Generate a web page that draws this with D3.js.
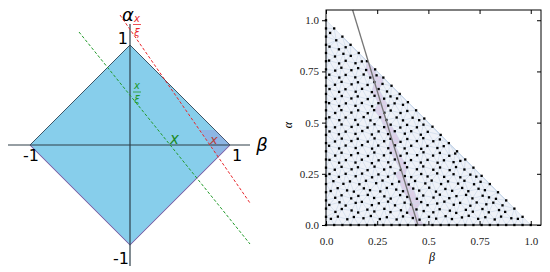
<!DOCTYPE html>
<html>
<head>
<meta charset="utf-8">
<script src="https://cdn.jsdelivr.net/npm/d3@7"></script>
<style>
  body { margin: 0; background: #fff; }
  svg { display: block; }
</style>
</head>
<body>
<svg id="chart" width="550" height="272"></svg>
<script>
// left panel: the diamond |beta| + |alpha| <= 1 with two cutting lines
var diamond = [[0, 1], [1, 0], [0, -1], [-1, 0]];
var lowerEdges = [[-1, 0], [0, -1], [1, 0]];
var redLine = [[-0.10, 1.30], [1.20, -0.58]];
var greenLine = [[-0.51, 1.13], [1.20, -0.99]];
var redCross = 0.80, greenCross = 0.40;       // where the lines meet beta axis
var redCut = 1.155, greenCut = 0.50;          // where they meet alpha axis
var beyondRed = [[0.70, 0.15], [0.85, 0.15], [1, 0], [0.88, -0.12]];  // tinted corner past the red line

// right panel: sample points in the simplex, cut by a line
var ticks = [0, 0.25, 0.5, 0.75, 1.0];
var tickLabels = ["0.0", "0.25", "0.5", "0.75", "1.0"];
var edgeSteps = [0, 0.04, 0.08, 0.12, 0.16, 0.20, 0.24, 0.28, 0.32, 0.36, 0.40, 0.44, 0.48,
                 0.52, 0.56, 0.60, 0.64, 0.68, 0.72, 0.76, 0.80, 0.84, 0.88, 0.92, 0.96, 1.0];
var cutLine = [[0.13, 1.05], [0.449, 0]];
var innerPoints = [
  [.024,.030],[.058,.041],[.104,.028],[.136,.039],[.183,.033],[.219,.044],[.263,.029],[.297,.038],[.345,.027],[.376,.042],[.424,.034],[.457,.026],[.503,.040],[.538,.031],[.584,.043],[.615,.029],[.664,.037],[.697,.045],[.743,.030],[.778,.038],[.824,.027],[.855,.041],[.905,.033],[.937,.030],
  [.046,.064],[.077,.078],[.125,.071],[.157,.061],[.202,.075],[.236,.066],[.285,.079],[.315,.063],[.366,.072],[.396,.060],[.442,.076],[.477,.068],[.524,.062],[.555,.077],[.605,.070],[.636,.059],[.683,.074],[.717,.065],[.764,.078],[.795,.062],[.845,.073],[.875,.064],
  [.016,.098],[.066,.111],[.096,.095],[.145,.108],[.175,.113],[.224,.097],[.258,.106],[.303,.114],[.337,.096],[.384,.109],[.415,.100],[.465,.112],[.496,.097],[.543,.105],[.578,.114],[.624,.099],[.655,.108],[.705,.094],[.736,.110],[.783,.101],[.817,.109],[.862,.096],
  [.045,.133],[.076,.145],[.123,.130],[.158,.142],[.204,.147],[.235,.132],[.285,.140],[.316,.129],[.362,.146],[.397,.137],[.444,.128],[.475,.144],[.525,.134],[.556,.148],[.602,.131],[.637,.141],[.684,.147],[.715,.130],[.765,.143],[.796,.135],[.830,.128],
  [.023,.166],[.057,.180],[.103,.169],[.136,.163],[.185,.179],[.215,.170],[.265,.164],[.297,.181],[.343,.173],[.376,.165],[.426,.178],[.455,.168],[.504,.182],[.537,.163],[.583,.176],[.616,.167],[.665,.181],[.695,.165],[.745,.177],[.776,.170],
  [.036,.214],[.085,.201],[.117,.213],[.163,.199],[.195,.216],[.245,.204],[.276,.217],[.323,.200],[.357,.212],[.404,.198],[.435,.215],[.485,.203],[.516,.217],[.562,.200],[.596,.213],[.645,.202],[.676,.216],[.723,.199],[.755,.211],
  [.017,.249],[.063,.235],[.096,.250],[.145,.238],[.176,.251],[.225,.233],[.256,.247],[.303,.236],[.336,.252],[.385,.239],[.416,.234],[.465,.249],[.496,.237],[.543,.252],[.577,.235],[.623,.248],[.656,.233],[.705,.246],[.734,.236],
  [.043,.270],[.076,.284],[.125,.272],[.156,.282],[.203,.268],[.237,.285],[.284,.271],[.315,.283],[.365,.269],[.396,.282],[.444,.272],[.475,.286],[.524,.270],[.557,.281],[.604,.268],[.635,.283],[.676,.271],
  [.017,.318],[.064,.304],[.097,.317],[.144,.305],[.175,.319],[.224,.302],[.257,.316],[.304,.306],[.336,.320],[.385,.303],[.415,.317],[.463,.305],[.496,.318],[.545,.304],[.576,.316],[.623,.307],[.656,.313],
  [.045,.339],[.076,.353],[.123,.341],[.156,.351],[.205,.337],[.236,.354],[.283,.340],[.316,.352],[.364,.338],[.395,.350],[.445,.341],[.476,.355],[.523,.339],[.556,.352],[.602,.338],[.631,.349],
  [.015,.387],[.064,.374],[.096,.388],[.145,.376],[.176,.390],[.225,.373],[.255,.388],[.304,.375],[.337,.389],[.384,.374],[.416,.387],[.465,.372],[.495,.386],[.544,.376],[.575,.385],
  [.044,.408],[.077,.422],[.124,.410],[.155,.421],[.204,.407],[.237,.423],[.284,.409],[.315,.421],[.364,.406],[.397,.420],[.444,.410],[.475,.424],[.524,.409],[.556,.418],
  [.017,.457],[.063,.443],[.096,.456],[.144,.445],[.177,.459],[.224,.442],[.257,.457],[.303,.444],[.336,.458],[.385,.446],[.416,.458],[.463,.441],[.497,.455],
  [.044,.477],[.076,.491],[.125,.479],[.156,.490],[.203,.476],[.237,.492],[.284,.478],[.316,.490],[.363,.476],[.396,.489],[.444,.477],[.476,.490],
  [.016,.526],[.065,.512],[.096,.525],[.143,.513],[.184,.527],[.217,.511],[.264,.526],[.295,.513],[.345,.525],[.376,.511],[.423,.524],[.455,.512],
  [.045,.547],[.075,.561],[.124,.549],[.157,.560],[.204,.546],[.235,.561],[.285,.548],[.316,.559],[.364,.547],[.397,.557],
  [.015,.595],[.064,.581],[.097,.594],[.144,.582],[.175,.596],[.225,.580],[.256,.595],[.304,.583],[.335,.594],[.376,.587],
  [.044,.616],[.077,.630],[.124,.618],[.155,.628],[.204,.615],[.237,.631],[.284,.617],[.315,.628],[.347,.618],
  [.017,.664],[.064,.650],[.095,.663],[.145,.651],[.176,.665],[.224,.649],[.257,.664],[.298,.652],
  [.044,.685],[.076,.699],[.125,.687],[.156,.697],[.203,.684],[.236,.698],[.276,.689],
  [.016,.734],[.065,.720],[.096,.733],[.143,.721],[.184,.735],[.216,.720],[.247,.731],
  [.045,.754],[.075,.768],[.124,.756],[.157,.766],[.196,.757],
  [.015,.803],[.064,.789],[.096,.802],[.144,.790],[.175,.799],
  [.044,.823],[.085,.836],[.121,.826],
  [.017,.871],[.063,.858],[.096,.868],
  [.050,.902],
  [.020,.938]
];

var svg = d3.select("#chart");

// ---------- left panel ----------
var xL = d3.scaleLinear().domain([-1, 1]).range([30, 230]);
var yL = d3.scaleLinear().domain([-1, 1]).range([245, 45]);
var lineL = d3.line().x(function(d) { return xL(d[0]); }).y(function(d) { return yL(d[1]); });

svg.append("path")
    .datum(diamond)
    .attr("d", lineL.curve(d3.curveLinearClosed))
    .attr("fill", "#87ceeb")
    .attr("stroke", "#3d5566")
    .attr("stroke-width", 1);

svg.append("path")
    .datum(beyondRed)
    .attr("d", lineL.curve(d3.curveLinearClosed))
    .attr("fill", "#a070d0")
    .attr("fill-opacity", 0.25);

svg.append("path")
    .datum(lowerEdges)
    .attr("d", lineL.curve(d3.curveLinear))
    .attr("fill", "none")
    .attr("stroke", "#9a7cc8")
    .attr("stroke-opacity", 0.7)
    .attr("stroke-width", 1.2);

// axes through the origin
svg.append("line")
    .attr("x1", xL(-1.22)).attr("x2", xL(1.2))
    .attr("y1", yL(0)).attr("y2", yL(0))
    .attr("stroke", "#2e3f48").attr("stroke-width", 1.2);
svg.append("line")
    .attr("x1", xL(0)).attr("x2", xL(0))
    .attr("y1", yL(1.21)).attr("y2", yL(-1.21))
    .attr("stroke", "#2e3f48").attr("stroke-width", 1.2);

[[redLine, "#e8262b"], [greenLine, "#229a2a"]].forEach(function(l) {
    svg.append("line")
        .attr("x1", xL(l[0][0][0])).attr("y1", yL(l[0][0][1]))
        .attr("x2", xL(l[0][1][0])).attr("y2", yL(l[0][1][1]))
        .attr("stroke", l[1])
        .attr("stroke-width", 1)
        .attr("stroke-dasharray", "3,2");
});

var sans = "DejaVu Sans, sans-serif";
function lbl(x, y, t, size, anchor, italic, color) {
    return svg.append("text")
        .attr("x", x).attr("y", y)
        .attr("text-anchor", anchor || "start")
        .style("font-family", sans)
        .style("font-size", size + "px")
        .style("font-style", italic ? "italic" : "normal")
        .attr("fill", color || "#000")
        .text(t);
}
lbl(xL(0) - 2, 21, "α", 18, "middle", true);
lbl(xL(0) + 132, yL(0) + 6, "β", 18, "middle", true);
lbl(xL(0) - 2, yL(1) - 1, "1", 16, "end");
lbl(xL(-1) + 1, yL(0) + 16, "-1", 16, "middle");
lbl(xL(1) + 7, yL(0) + 16, "1", 16, "middle");
lbl(xL(0) - 1, yL(-1) + 19, "-1", 16, "end");

// markers where the lines cross the beta axis
lbl(xL(redCross), yL(0) - 1, "x", 13, "start", true, "#b5403a");
lbl(xL(greenCross), yL(0) - 1, "x", 15, "start", true, "#1d8a26");

// x / xi labels where the lines cross the alpha axis
function frac(yc, color) {
    var cx = xL(0) + 7;
    lbl(cx, yc - 4, "x", 10, "middle", true, color);
    svg.append("line").attr("x1", cx - 4).attr("x2", cx + 4)
        .attr("y1", yc - 1).attr("y2", yc - 1)
        .attr("stroke", color).attr("stroke-width", 0.8);
    lbl(cx, yc + 10, "ξ", 10, "middle", true, color);
}
frac(yL(redCut) - 4, "#e8262b");
frac(yL(greenCut) - 2, "#229a2a");

// ---------- right panel ----------
var xR = d3.scaleLinear().domain([0, 1.05]).range([326, 541]);
var yR = d3.scaleLinear().domain([0, 1.05]).range([225, 10]);

var pts = [];
edgeSteps.forEach(function(s) { pts.push([s, 0]); });
edgeSteps.slice(1).forEach(function(s) { pts.push([0, s]); });
edgeSteps.slice(1, -1).forEach(function(s) { pts.push([s, 1 - s]); });
innerPoints.forEach(function(p) { pts.push(p); });

var pix = pts.map(function(p) { return [xR(p[0]), yR(p[1])]; });
var delaunay = d3.Delaunay.from(pix);

svg.append("path")
    .datum([[0, 0], [1, 0], [0, 1]])
    .attr("d", d3.line().x(function(d) { return xR(d[0]); }).y(function(d) { return yR(d[1]); }).curve(d3.curveLinearClosed))
    .attr("fill", "#eff2f8");

// triangles cut by the line get a lilac tint
var la = [xR(cutLine[0][0]), yR(cutLine[0][1])], lb = [xR(cutLine[1][0]), yR(cutLine[1][1])];
function side(p) { return (lb[0] - la[0]) * (p[1] - la[1]) - (lb[1] - la[1]) * (p[0] - la[0]); }
var tri = delaunay.triangles;
var cut = [];
for (var i = 0; i < tri.length; i += 3) {
    var s = [side(pix[tri[i]]), side(pix[tri[i + 1]]), side(pix[tri[i + 2]])];
    if (d3.min(s) < 0 && d3.max(s) > 0) cut.push([pix[tri[i]], pix[tri[i + 1]], pix[tri[i + 2]]]);
}
svg.append("g").selectAll("path")
    .data(cut)
    .enter().append("path")
    .attr("d", function(t) { return "M" + t.join("L") + "Z"; })
    .attr("fill", "#ddd0e8");

svg.append("path")
    .attr("d", delaunay.render())
    .attr("fill", "none")
    .attr("stroke", "#c8d7ea")
    .attr("stroke-width", 0.6);

svg.append("g").selectAll("rect")
    .data(pix)
    .enter().append("rect")
    .attr("x", function(d) { return d[0] - 1.15; })
    .attr("y", function(d) { return d[1] - 1.15; })
    .attr("width", 2.3).attr("height", 2.3)
    .attr("fill", "#000");

svg.append("line")
    .attr("x1", la[0]).attr("y1", la[1])
    .attr("x2", lb[0]).attr("y2", lb[1])
    .attr("stroke", "#777").attr("stroke-width", 1.3);

svg.append("rect")
    .attr("x", 326).attr("y", 10).attr("width", 215).attr("height", 215)
    .attr("fill", "none").attr("stroke", "#000").attr("stroke-width", 1);

var serif = "Liberation Serif, DejaVu Serif, serif";
function fmt(d, i) { return tickLabels[i]; }
function styleAxis(g) {
    g.select(".domain").remove();
    g.selectAll("line").attr("stroke", "#000");
    g.selectAll("text").style("font-family", serif).style("font-size", "11px").attr("fill", "#222");
}
svg.append("g").attr("transform", "translate(0,225)")
    .call(d3.axisBottom(xR).tickValues(ticks).tickFormat(fmt).tickSizeInner(-4).tickSizeOuter(0).tickPadding(12))
    .call(styleAxis);
svg.append("g").attr("transform", "translate(326,0)")
    .call(d3.axisLeft(yR).tickValues(ticks).tickFormat(fmt).tickSize(4).tickPadding(3))
    .call(styleAxis);
svg.append("g").attr("transform", "translate(0,10)")
    .call(d3.axisTop(xR).tickValues(ticks).tickFormat("").tickSize(-4))
    .call(styleAxis);
svg.append("g").attr("transform", "translate(541,0)")
    .call(d3.axisRight(yR).tickValues(ticks).tickFormat("").tickSize(-4))
    .call(styleAxis);

svg.append("text")
    .attr("transform", "translate(292,125) rotate(-90)")
    .attr("text-anchor", "middle")
    .style("font-family", serif).style("font-size", "12px").style("font-style", "italic")
    .text("α");
svg.append("text")
    .attr("x", 432).attr("y", 261)
    .attr("text-anchor", "middle")
    .style("font-family", serif).style("font-size", "12px").style("font-style", "italic")
    .text("β");
</script>
</body>
</html>
